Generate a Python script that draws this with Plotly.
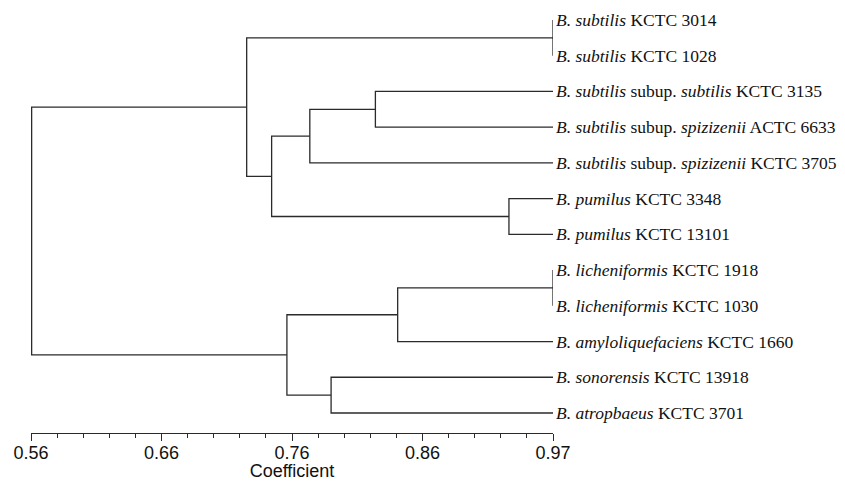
import plotly.graph_objects as go

# Leaf labels (top to bottom)
leaf_labels = [
    "<i>B. subtilis</i> KCTC 3014",
    "<i>B. subtilis</i> KCTC 1028",
    "<i>B. subtilis</i> subup. <i>subtilis</i> KCTC 3135",
    "<i>B. subtilis</i> subup. <i>spizizenii</i> ACTC 6633",
    "<i>B. subtilis</i> subup. <i>spizizenii</i> KCTC 3705",
    "<i>B. pumilus</i> KCTC 3348",
    "<i>B. pumilus</i> KCTC 13101",
    "<i>B. licheniformis</i> KCTC 1918",
    "<i>B. licheniformis</i> KCTC 1030",
    "<i>B. amyloliquefaciens</i> KCTC 1660",
    "<i>B. sonorensis</i> KCTC 13918",
    "<i>B. atropbaeus</i> KCTC 3701",
]
leaf_coef = 0.97  # similarity at leaves

# Linkage: node ids 0-11 are leaves, 12+ are clusters in merge order
merge_left = [0, 2, 13, 5, 14, 12, 7, 18, 10, 19, 17]
merge_right = [1, 3, 4, 6, 15, 16, 8, 9, 11, 20, 21]
merge_coef = [0.97, 0.8305, 0.779, 0.9354, 0.749, 0.7294, 0.97, 0.848, 0.7957, 0.761, 0.5605]

tick_labels = ["0.56", "0.66", "0.76", "0.86", "0.97"]
axis_min, axis_max = 0.56, 0.97

n = len(leaf_labels)
node_x = {i: leaf_coef for i in range(n)}
node_y = {i: float(i) for i in range(n)}

xs, ys = [], []
for k, (a, b, h) in enumerate(zip(merge_left, merge_right, merge_coef)):
    nid = n + k
    node_x[nid] = h
    node_y[nid] = (node_y[a] + node_y[b]) / 2
    xs += [node_x[a], h, h, node_x[b], None]
    ys += [node_y[a], node_y[a], node_y[b], node_y[b], None]

fig = go.Figure()
fig.add_trace(go.Scatter(x=xs, y=ys, mode="lines",
                         line=dict(color="#2b2b2b", width=1.3),
                         cliponaxis=False, hoverinfo="skip", showlegend=False))

for i, lab in enumerate(leaf_labels):
    fig.add_annotation(x=leaf_coef, y=i, xref="x", yref="y", text=lab,
                       showarrow=False, xanchor="left", yanchor="middle", xshift=1,
                       font=dict(family="Liberation Serif, Times New Roman, serif", size=17.5, color="#111"))

step = (axis_max - axis_min) / (len(tick_labels) - 1)
tick_vals = [axis_min + i * step for i in range(len(tick_labels))]

fig.update_layout(
    width=837, height=473,
    margin=dict(l=23, r=292, t=0, b=48),
    plot_bgcolor="white", paper_bgcolor="white",
    xaxis=dict(range=[axis_min, axis_max], showgrid=False, zeroline=False, automargin=False,
               showline=True, linecolor="#2b2b2b", linewidth=1.3,
               ticks="outside", ticklen=7, tickwidth=1.2, tickcolor="#2b2b2b",
               tickvals=tick_vals, ticktext=tick_labels, ticklabelstandoff=-4,
               minor=dict(ticks="outside", ticklen=4, tickwidth=1, tickcolor="#2b2b2b",
                          tick0=axis_min, dtick=step / 5),
               tickfont=dict(family="Liberation Sans, Arial, sans-serif", size=18, color="#111"),
               title=dict(text="Coefficient", standoff=0,
                          font=dict(family="Liberation Sans, Arial, sans-serif", size=18, color="#111"))),
    yaxis=dict(range=[n - 1 + 0.56, -0.336], visible=False, showgrid=False, zeroline=False),
)

fig.write_html("out.html")
